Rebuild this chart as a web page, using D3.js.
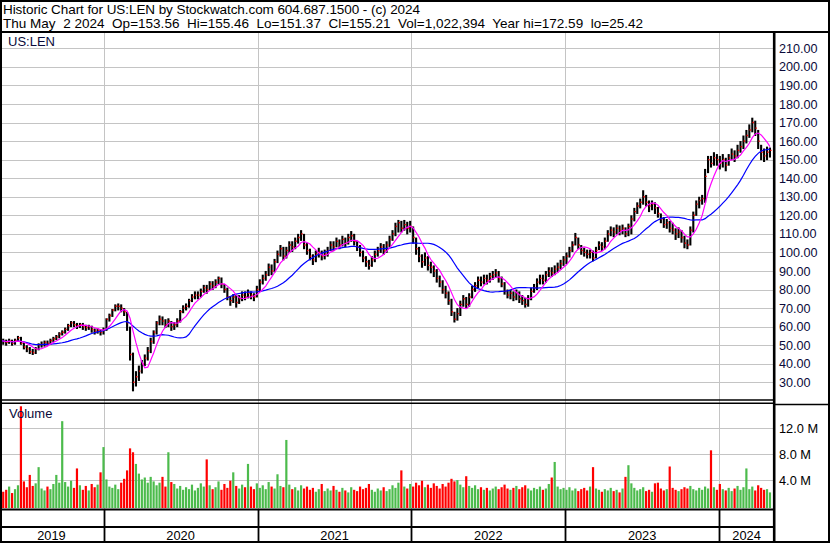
<!DOCTYPE html>
<html><head><meta charset="utf-8">
<script src="https://cdn.jsdelivr.net/npm/d3@7"></script>
<style>
html,body{margin:0;padding:0;background:#fff;}
svg{display:block;font-family:"Liberation Sans",Arial,sans-serif;}
</style></head><body>
<svg id="c" width="830" height="543"></svg>
<script>
const title1 = "Historic Chart for US:LEN by Stockwatch.com 604.687.1500 - (c) 2024";
const title2 = "Thu May  2 2024  Op=153.56  Hi=155.46  Lo=151.37  Cl=155.21  Vol=1,022,394  Year hi=172.59  lo=25.42";
const symbol = "US:LEN";
const volTitle = "Volume";
const firstWeek = "2019-05-01";           // mid-week date of first weekly bar
const yearLabels = ["2019","2020","2021","2022","2023","2024"];
const priceTicks = [30,40,50,60,70,80,90,100,110,120,130,140,150,160,170,180,190,200,210];
const volTicks = [4,8,12];                 // millions
const maShort = 6, maLong = 20;            // weeks

const close = [
52.5,52,51.5,52.3,51,52.5,54,51,49,48,46.5,46,48,50,50.5,51.5,51,52.5,53.5,54.5,56,57,58.5,60.5,62,61,60.5,61,60,59.5,60,58.5,57.5,58,57,
58,64,66,69,71,71,70,68,62,45,30,33,36,40,43,47,52,57,62,64,63,61,63,60,61,63,68,70,71,74,76,77,77,79,81,80,83,82,84,86,83,80,76,74,76,73,75,77,76,78,77,76,
80,84,86,88,92,90,95,99,102,98,101,104,103,106,108,110,104,101,98,96,99,100,98,99,101,104,103,106,104,107,105,108,109,106,103,100,97,95,93,96,99,101,103,101,104,107,110,114,116,113,115,113,
114,108,102,98,95,97,93,92,90,86,84,80,78,74,68,64,67,72,75,72,76,80,82,85,84,86,85,87,88,89,86,83,79,77,78,76,78,75,74,72,75,79,81,84,86,85,88,90,89,91,92,94,96,
98,101,104,108,104,101,100,99,100,97,101,104,103,106,110,112,111,113,112,113,110,114,118,122,125,127,130,127,125,126,124,121,118,115,116,113,112,110,111,108,105,104,112,120,126,128,129,141,150,148,151,150,
148,150,147,151,153,152,155,157,160,163,166,170,167,160,154,152,154,155];

const high = [
54,53.5,53,53.5,53,53.5,55,54.5,51.5,50,49,48,49,51,52,52.5,52.5,53.5,54.5,55.5,57,58,59.5,61.5,63,63,62,62,62,61,61,60.5,59,59,58.5,
59.5,64.5,67,69.5,72,72.5,72,70,68,60,46,36,39,42,45,49,54,58,63,66,65.5,64,64.5,63,62.5,64.5,69,71.5,72.5,75,77.5,79,79,80.5,82.5,82.5,84.5,84.5,85.5,87,86.5,83,81,76.5,77.5,77,77,79,79,80,79,78,
82,85.5,88,90,94,93.5,96.5,101,104,103,103,106,106,108,110,112,110,105,102,99,101,102.5,101,101.5,103,106,106,108,107,109,108,110,111.5,110,106,104,101,98,96,98,101,103,105,104.5,106,109,112,116,117.5,117,117.5,116.5,
117,114,108,103,99,100,98,95,93,91,87.5,85,82,79,75,68,70,74,77,76,78,82,84,87,87,88,88,89,90,91,90,87,84,80,80,79,80,79,77,75.5,77,81,83,86,88,88,90,92,92,93,94.5,96,98,
100,103,106,110.5,108,104,102.5,101.5,101.5,101,103,106,105.5,108,112,114,113.5,115,114.5,115,113.5,115.5,120,124,127,129,133.5,131,128,128,127,124.5,121,119,118,117,116,113,113.5,112,109,107,114,122,128,130,131,145,152,152,154,153,
152,153,151,153,156,155,158,160,163,166,169,172.6,171,166,158,156,157,156.5];

const low = [
51,50.5,50,51,50,50.5,52,50.5,48,46.5,45.5,45,45.5,47.5,49,49.5,50,50.5,52,53,54,55.5,56.5,58,60,60,59,59.5,58.5,58,58.5,57,56,56.5,55.5,
56,58,63,65.5,68.5,69,68,66,58,42,25.4,28,31,35,39,42,46,51,56,61,61,59.5,60,58,58.5,60,62.5,67.5,69,70.5,73.5,75,75,76,78.5,78,80,80,81,83,81,78.5,74.5,71.5,73,70.5,72.5,74,74.5,75.5,75,74,
76,79.5,83,85,87.5,88,89.5,94.5,98,96,97,100,100.5,102,105,106.5,102,99,96,93.5,95,97.5,96,96.5,98,101,101,103,102,103.5,103,104.5,106,104,101,98,95,92.5,91,92.5,95,98,100,99,100,103,106.5,109,111,111,112,110,
111,105,99,95,92,93,90.5,89,87,84,81.5,78,75.5,72,66,62.5,63.5,66,71,70,71,75.5,79,81,82,83,83,84,85.5,86.5,84,81.5,77.5,75.5,75,74,74.5,73,72,70.5,71,74.5,78.5,80,83,83,84,87,87,88,89.5,91,93,
94,97.5,100.5,104,102,99,98,97,97,95.5,97,101.5,101,102,106,109,108.5,110,109.5,110,108.5,109,110,117,121,124,126,125,122,123,121,119,116,113.5,113,111,110,107,108,105.5,102.5,102,104,111,120,124,126,127,143,146,147,147,
145,146,144,147,150,149,151,154,156,159,162,165,163,156,150,149,150,151.4];

const volume = [
2.8,2.2,2.5,3.0,2.0,2.6,3.2,15.4,3.8,2.9,4.8,3.1,3.5,6.0,2.7,2.4,3.0,2.6,3.4,4.8,3.6,13.1,3.7,3.0,3.9,2.8,5.8,3.2,2.5,3.1,2.4,3.4,2.9,3.3,5.2,
9.1,4.1,3.0,2.8,3.3,2.6,3.6,4.2,5.5,8.9,8.3,6.5,5.0,4.1,4.4,3.6,4.5,3.8,3.2,3.6,4.5,3.0,8.3,3.7,3.4,2.7,3.1,2.5,2.9,2.6,3.3,2.4,2.8,3.5,3.0,7.2,3.2,2.6,2.9,3.8,2.5,3.4,2.8,3.9,5.2,3.1,2.7,3.3,2.9,6.5,3.0,2.6,
3.5,2.8,3.2,2.6,3.7,3.0,2.7,4.9,3.1,2.9,10.2,3.3,2.6,2.9,2.4,3.2,2.7,3.0,2.5,2.8,2.2,2.6,3.4,2.3,2.7,2.4,3.1,2.5,2.2,2.8,2.4,2.1,2.9,2.5,2.3,3.0,2.6,2.8,3.4,2.5,2.2,2.7,2.4,2.9,2.3,2.6,3.2,2.8,3.6,5.5,3.0,2.7,
3.4,3.0,3.6,3.2,3.9,2.9,3.3,2.8,3.5,3.1,2.7,3.4,3.0,3.6,4.2,3.8,4.0,3.3,2.9,4.6,3.1,2.8,3.2,2.6,2.9,2.5,2.8,2.4,2.7,3.0,2.6,2.9,3.3,2.7,2.5,2.8,3.1,2.6,2.9,3.2,2.7,2.4,2.8,2.6,3.0,2.5,2.7,3.4,4.4,6.8,3.0,2.6,2.8,
2.5,2.9,2.4,2.7,2.3,2.6,2.8,2.4,3.0,6.0,2.7,2.5,2.2,2.6,2.4,2.8,2.3,2.5,2.1,2.7,4.5,6.3,3.5,2.8,2.4,2.6,2.9,2.3,2.5,2.2,3.5,3.6,2.7,2.4,2.6,6.1,2.8,2.5,2.3,2.6,2.9,2.7,3.1,2.6,2.4,2.8,2.5,3.0,2.7,8.6,2.9,2.5,
3.4,2.6,2.4,2.8,2.3,2.7,3.1,2.5,2.9,5.8,2.6,3.0,2.4,3.2,2.8,2.5,2.6,2.1];

// ---------- layout ----------
const W = 830, H = 543;
const AXX = 774.2;          // right axis line
const PL = 1, PR = 773;     // plot horizontal extent
const PT = 33, PB = 400;    // price panel
const VT = 403, VB = 509;   // volume panel
const GRID = "#c4c4c4";
const GREEN = "#4cbb4c", RED = "#ff0000";

const svg = d3.select("#c");
svg.append("rect").attr("width", W).attr("height", H).attr("fill", "#fff");

const t0 = new Date(firstWeek + "T00:00:00Z");
const dates = close.map((_, i) => d3.utcDay.offset(t0, 7 * i));
const x = d3.scaleUtc()
  .domain([new Date(Date.UTC(2020,0,1)), new Date(Date.UTC(2024,0,1))])
  .range([103.5, 719]);
const y = d3.scaleLinear().domain([30, 210]).range([382.3, 48.3]);
const yv = d3.scaleLinear().domain([0, 12]).range([506, 428.3]);

const yearStarts = yearLabels.slice(1).map(s => new Date(s + "-01-01T00:00:00Z"));

// gridlines
const g = svg.append("g");
g.selectAll("line.hp").data(priceTicks).join("line")
  .attr("x1", PL).attr("x2", PR).attr("y1", d => Math.round(y(d)) + 0.5).attr("y2", d => Math.round(y(d)) + 0.5)
  .attr("stroke", GRID).attr("stroke-width", 1);
g.selectAll("line.hv").data(volTicks).join("line")
  .attr("x1", PL).attr("x2", PR).attr("y1", d => Math.round(yv(d)) + 0.5).attr("y2", d => Math.round(yv(d)) + 0.5)
  .attr("stroke", GRID).attr("stroke-width", 1);
g.selectAll("line.vy").data(yearStarts).join("line")
  .attr("x1", d => Math.round(x(d)) + 0.5).attr("x2", d => Math.round(x(d)) + 0.5)
  .attr("y1", PT).attr("y2", VB)
  .attr("stroke", GRID).attr("stroke-width", 1);

// volume bars
svg.append("g").selectAll("rect").data(volume).join("rect")
  .attr("x", (d, i) => x(dates[i]) - 1.1)
  .attr("width", 2.2)
  .attr("y", d => Math.max(VT + 1, yv(d)))
  .attr("height", d => VB - 1 - Math.max(VT + 1, yv(d)))
  .attr("fill", (d, i) => (i === 0 || close[i] >= close[i - 1]) ? GREEN : RED);

// price bars
const pb = svg.append("g");
pb.selectAll("line.bar").data(close).join("line")
  .attr("x1", (d, i) => x(dates[i])).attr("x2", (d, i) => x(dates[i]))
  .attr("y1", (d, i) => y(high[i])).attr("y2", (d, i) => y(low[i]) + 0.5)
  .attr("stroke", "#000").attr("stroke-width", 2.1);
pb.selectAll("line.cl").data(close).join("line")
  .attr("x1", (d, i) => x(dates[i]) + 0.2).attr("x2", (d, i) => x(dates[i]) + 1.6)
  .attr("y1", d => y(d)).attr("y2", d => y(d))
  .attr("stroke", RED).attr("stroke-width", 1.4);

// moving averages
function sma(arr, w) {
  return arr.map((_, i) => d3.mean(arr.slice(Math.max(0, i - w + 1), i + 1)));
}
const line = d3.line().x((d, i) => x(dates[i])).y(d => y(d));
svg.append("path").attr("d", line(sma(close, maLong)))
  .attr("fill", "none").attr("stroke", "#0000ff").attr("stroke-width", 1.2);
svg.append("path").attr("d", line(sma(close, maShort)))
  .attr("fill", "none").attr("stroke", "#ff00ff").attr("stroke-width", 1.2);

// frame
const fr = svg.append("g").attr("stroke", "#000").attr("fill", "none");
fr.append("rect").attr("x", 1).attr("y", 1).attr("width", W - 2).attr("height", H - 2).attr("stroke-width", 2);
fr.append("line").attr("x1", 0).attr("x2", W).attr("y1", 32).attr("y2", 32).attr("stroke-width", 2.2);
fr.append("line").attr("x1", 0).attr("x2", AXX).attr("y1", 400).attr("y2", 400).attr("stroke-width", 1.6);
fr.append("line").attr("x1", 0).attr("x2", AXX).attr("y1", 403.2).attr("y2", 403.2).attr("stroke-width", 1.6);
fr.append("line").attr("x1", AXX).attr("x2", W).attr("y1", 404.5).attr("y2", 404.5).attr("stroke-width", 1.6);
fr.append("line").attr("x1", 0).attr("x2", AXX).attr("y1", 509.5).attr("y2", 509.5).attr("stroke-width", 2);
fr.append("line").attr("x1", 0).attr("x2", AXX).attr("y1", 527).attr("y2", 527).attr("stroke-width", 2);
fr.selectAll("line.yb").data(yearStarts).join("line")
  .attr("x1", d => Math.round(x(d)) + 0.5).attr("x2", d => Math.round(x(d)) + 0.5)
  .attr("y1", 509).attr("y2", H).attr("stroke-width", 1.8);
fr.append("line").attr("x1", AXX).attr("x2", AXX).attr("y1", 32).attr("y2", H).attr("stroke-width", 2.6);

// text
const tx = svg.append("g").attr("fill", "#000");
tx.append("text").attr("x", 3).attr("y", 14).attr("font-size", "13.5px")
  .attr("textLength", 417).attr("lengthAdjust", "spacing").text(title1);
tx.append("text").attr("x", 3).attr("y", 28).attr("font-size", "13.5px")
  .attr("textLength", 640).attr("lengthAdjust", "spacing")
  .style("white-space", "pre").text(title2);
tx.append("text").attr("x", 8).attr("y", 46).attr("font-size", "13px").attr("fill", "#0a0a3a").text(symbol);
tx.append("text").attr("x", 9).attr("y", 418).attr("font-size", "13px").attr("fill", "#0a0a3a").text(volTitle);

tx.selectAll("text.pt").data(priceTicks).join("text")
  .attr("x", 779).attr("y", d => y(d)).attr("dy", "0.36em")
  .attr("font-size", "12.6px").attr("fill", "#0a0a3a")
  .text(d => d3.format(".2f")(d));
tx.selectAll("text.vt").data(volTicks).join("text")
  .attr("x", 779).attr("y", d => yv(d)).attr("dy", "0.36em")
  .attr("font-size", "12.8px")
  .text(d => d.toFixed(1) + " M");

const bounds = [x(dates[0]) - 1].concat(yearStarts.map(x)).concat([AXX]);
tx.selectAll("text.yr").data(yearLabels).join("text")
  .attr("x", (d, i) => (bounds[i] + bounds[i + 1]) / 2)
  .attr("y", 539.5).attr("text-anchor", "middle")
  .attr("font-size", "12.8px")
  .text(d => d);
</script>
</body></html>
